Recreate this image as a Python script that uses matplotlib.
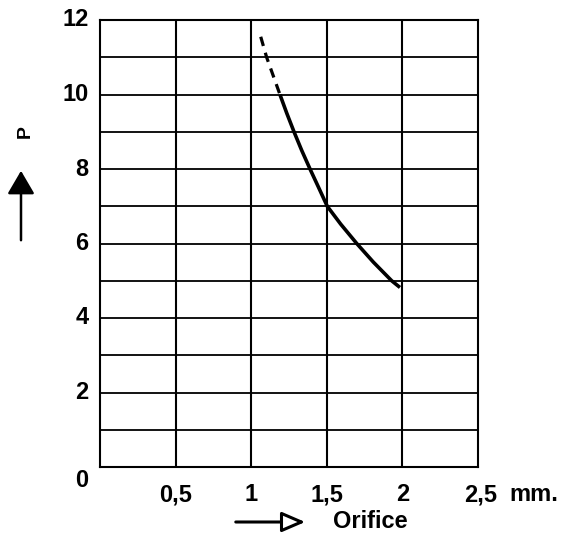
import matplotlib.pyplot as plt
from matplotlib.patches import FancyArrowPatch

plt.rcParams['font.family'] = ['Liberation Sans', 'DejaVu Sans']

# dashed part (extrapolated) and solid part of the curve
x_dash = [1.063, 1.102, 1.190]
y_dash = [11.55, 11.0, 10.0]
x_solid = [1.190, 1.235, 1.283, 1.334, 1.389, 1.444, 1.503, 1.592, 1.698, 1.808, 1.929, 1.984]
y_solid = [10.0, 9.5, 9.0, 8.5, 8.0, 7.52, 7.0, 6.52, 6.0, 5.5, 5.0, 4.82]

x_ticks = [0.5, 1.0, 1.5, 2.0, 2.5]
x_labels = ['0,5', '1', '1,5', '2', '2,5']
y_ticks = [0, 2, 4, 6, 8, 10, 12]

fig = plt.figure(figsize=(5.65, 5.33), dpi=100)
ax = fig.add_axes([100 / 565, 66 / 533, 378 / 565, 447 / 533])
ax.set_xlim(0, 2.5)
ax.set_ylim(0, 12)

# grid
for gx in [0.5, 1.0, 1.5, 2.0]:
    ax.axvline(gx, color='black', lw=1.5)
for gy in range(1, 12):
    ax.axhline(gy, color='black', lw=1.3)
for s in ax.spines.values():
    s.set_linewidth(1.5)

ax.plot(x_dash, y_dash, color='black', lw=2.3, ls=(0, (3, 2.2)))
ax.plot(x_solid, y_solid, color='black', lw=2.6, solid_capstyle='butt',
        solid_joinstyle='round')

ax.set_xticks([])
ax.set_yticks([])

fs = 17
for yt in y_ticks:
    dy = -0.35 if yt == 0 else 0
    ax.text(-0.075, yt + dy, str(yt), ha='right', va='center',
            fontsize=fs, fontweight='bold')
for xt, lab in zip(x_ticks, x_labels):
    off = 0.02 if lab == '2,5' else 0
    ax.text(xt + off, -0.75, lab, ha='center', va='center',
            fontsize=fs, fontweight='bold')
ax.text(2.71, -0.75, 'mm.', ha='left', va='center', fontsize=fs, fontweight='bold')

# axis titles with arrows
fig.text(333 / 565, 1 - 522 / 533, 'Orifice', ha='left', va='center',
         fontsize=fs, fontweight='bold')
fig.text(25 / 565, 1 - 132 / 533, 'P', ha='center', va='center', rotation=90,
         fontsize=14, fontweight='bold')

xa = FancyArrowPatch((233 / 565, 1 - 522 / 533), (308 / 565, 1 - 522 / 533),
                     transform=fig.transFigure, arrowstyle='-|>,head_length=6.5,head_width=2.8',
                     mutation_scale=2.2, color='black', lw=2.2, fc='white')
fig.patches.append(xa)
ya = FancyArrowPatch((21 / 565, 1 - 243 / 533), (21 / 565, 1 - 168 / 533),
                     transform=fig.transFigure, arrowstyle='-|>,head_length=6.5,head_width=3.8',
                     mutation_scale=2.2, color='black', lw=1.8)
fig.patches.append(ya)

fig.savefig('out.png', dpi=100)
